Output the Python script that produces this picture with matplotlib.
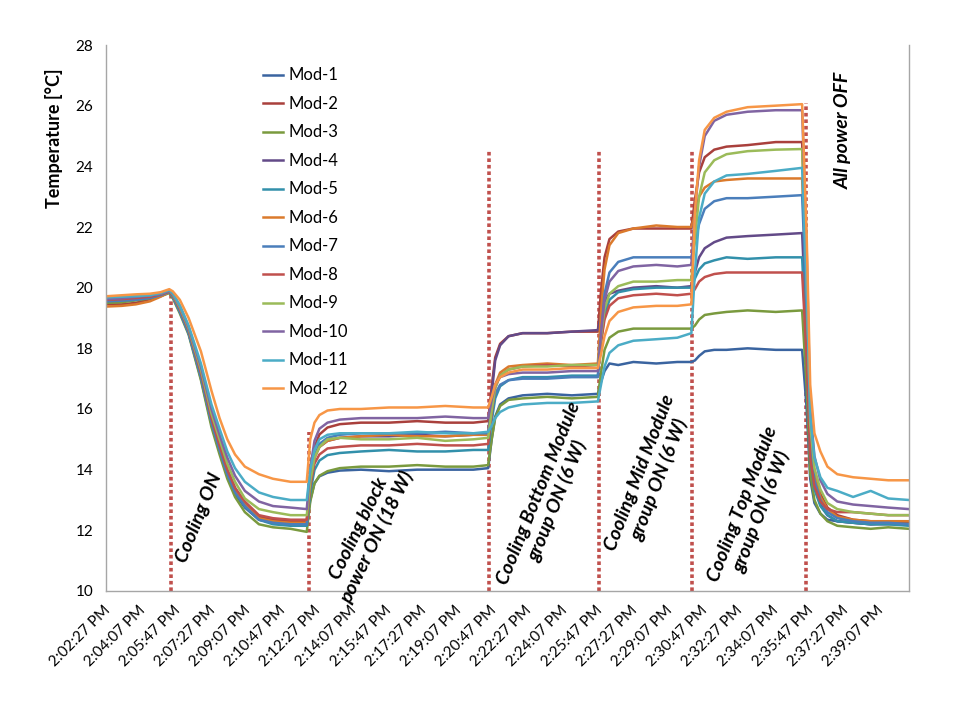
import matplotlib
matplotlib.use("Agg")
import matplotlib.pyplot as plt

plt.rcParams['font.family'] = ['Lato', 'DejaVu Sans']

# seconds after 2:02:27 PM
t = [0, 40, 80, 120, 150, 175,
     185, 205, 230, 265, 295, 318, 340, 362, 390, 430, 470, 520, 566,
     576, 588, 602, 625, 660, 720, 800, 880, 960, 1040, 1082,
     1092, 1102, 1116, 1140, 1180, 1250, 1320, 1394,
     1403, 1413, 1427, 1452, 1495, 1560, 1620, 1660,
     1670, 1682, 1698, 1725, 1760, 1820, 1900, 1975,
     1988, 1998, 2010, 2027, 2047, 2075, 2120, 2170, 2220, 2279]

mod1 = [19.55, 19.58, 19.62, 19.68, 19.75, 19.85,
        19.7, 19.2, 18.5, 17.0, 15.5, 14.6, 13.8, 13.2, 12.75, 12.35, 12.25, 12.2, 12.2,
        13.0, 13.55, 13.78, 13.9, 13.97, 14.0, 13.95, 14.0, 14.0, 14.0, 14.05,
        15.0, 15.75, 16.15, 16.35, 16.45, 16.5, 16.45, 16.5,
        16.9, 17.25, 17.5, 17.45, 17.55, 17.5, 17.55, 17.55,
        17.6, 17.75, 17.9, 17.95, 17.95, 18.0, 17.95, 17.95,
        16.0, 13.7, 12.9, 12.55, 12.35, 12.3, 12.25, 12.2, 12.25, 12.25]
mod2 = [19.45, 19.45, 19.5, 19.62, 19.72, 19.85,
        19.72, 19.25, 18.55, 17.1, 15.6, 14.7, 13.95, 13.35, 12.9, 12.45, 12.35, 12.3, 12.3,
        13.76, 14.74, 15.16, 15.39, 15.5, 15.55, 15.55, 15.6, 15.55, 15.55, 15.6,
        16.75, 17.7, 18.15, 18.4, 18.5, 18.5, 18.55, 18.55,
        19.9, 21.0, 21.6, 21.85, 21.95, 21.95, 21.95, 21.95,
        22.9, 23.8, 24.3, 24.55, 24.65, 24.7, 24.8, 24.8,
        20.4, 15.4, 13.9, 13.2, 12.75, 12.5, 12.35, 12.3, 12.3, 12.3]
mod3 = [19.5, 19.52, 19.58, 19.65, 19.72, 19.82,
        19.65, 19.15, 18.45, 16.95, 15.4, 14.5, 13.7, 13.1, 12.6, 12.2, 12.1, 12.05, 11.95,
        12.95, 13.55, 13.8, 13.95, 14.05, 14.1, 14.1, 14.15, 14.1, 14.1, 14.15,
        15.0, 15.7, 16.1, 16.3, 16.35, 16.4, 16.35, 16.4,
        17.2, 17.95, 18.35, 18.55, 18.65, 18.65, 18.65, 18.65,
        18.75, 18.95, 19.1, 19.15, 19.2, 19.25, 19.2, 19.25,
        16.7, 13.9, 13.0, 12.55, 12.3, 12.15, 12.1, 12.05, 12.1, 12.05]
mod4 = [19.6, 19.62, 19.65, 19.7, 19.78, 19.88,
        19.75, 19.3, 18.6, 17.2, 15.7, 14.8, 14.0, 13.4, 12.9, 12.4, 12.25, 12.2, 12.2,
        13.5, 14.4, 14.75, 14.95, 15.05, 15.1, 15.1, 15.15, 15.1, 15.15, 15.15,
        16.5, 17.6, 18.1, 18.4, 18.5, 18.5, 18.55, 18.6,
        19.1, 19.55, 19.8, 19.9, 20.0, 20.05, 20.0, 20.05,
        20.5, 21.0, 21.3, 21.5, 21.65, 21.7, 21.75, 21.8,
        18.4, 14.6, 13.45, 12.85, 12.5, 12.3, 12.25, 12.2, 12.2, 12.2]
mod5 = [19.58, 19.6, 19.63, 19.68, 19.76, 19.86,
        19.7, 19.25, 18.5, 17.1, 15.6, 14.7, 13.9, 13.3, 12.8, 12.35, 12.2, 12.15, 12.15,
        13.25, 13.99, 14.3, 14.48, 14.55, 14.6, 14.65, 14.6, 14.6, 14.65, 14.65,
        15.6, 16.35, 16.75, 16.95, 17.05, 17.05, 17.1, 17.1,
        18.2, 19.1, 19.6, 19.85, 19.95, 20.0, 20.0, 20.0,
        20.3, 20.6, 20.8, 20.9, 21.0, 20.95, 21.0, 21.0,
        17.9, 14.4, 13.35, 12.8, 12.5, 12.3, 12.25, 12.2, 12.2, 12.15]
mod6 = [19.38, 19.4, 19.45, 19.55, 19.7, 19.85,
        19.72, 19.25, 18.55, 17.15, 15.65, 14.75, 13.95, 13.35, 12.85, 12.4, 12.3, 12.25, 12.25,
        13.55, 14.4, 14.75, 14.95, 15.05, 15.1, 15.15, 15.1, 15.1, 15.15, 15.15,
        16.05, 16.8, 17.2, 17.4, 17.45, 17.5, 17.45, 17.5,
        19.2, 20.6, 21.4, 21.8, 21.95, 22.05, 22.0, 22.0,
        22.4, 23.0, 23.3, 23.5, 23.55, 23.6, 23.6, 23.6,
        19.6, 15.1, 13.8, 13.1, 12.7, 12.45, 12.35, 12.3, 12.3, 12.3]
mod7 = [19.55, 19.57, 19.6, 19.66, 19.75, 19.86,
        19.7, 19.2, 18.5, 17.05, 15.55, 14.65, 13.85, 13.25, 12.8, 12.35, 12.25, 12.2, 12.2,
        13.55, 14.45, 14.85, 15.05, 15.15, 15.2, 15.2, 15.2, 15.25, 15.2, 15.2,
        15.95, 16.5, 16.8, 16.95, 17.0, 17.0, 17.05, 17.05,
        18.4, 19.8, 20.5, 20.85, 21.0, 21.0, 21.0, 21.0,
        21.5, 22.1, 22.6, 22.85, 22.95, 22.95, 23.0, 23.05,
        19.3, 14.95, 13.65, 13.0, 12.6, 12.4, 12.3, 12.25, 12.25, 12.2]
mod8 = [19.6, 19.62, 19.66, 19.7, 19.78, 19.88,
        19.75, 19.3, 18.6, 17.2, 15.7, 14.8, 14.0, 13.4, 12.95, 12.5, 12.4, 12.35, 12.35,
        13.45, 14.2, 14.5, 14.7, 14.75, 14.8, 14.8, 14.85, 14.8, 14.8, 14.85,
        15.85, 16.7, 17.1, 17.3, 17.4, 17.45, 17.4, 17.45,
        18.2, 18.95, 19.4, 19.65, 19.75, 19.8, 19.75, 19.8,
        19.95, 20.2, 20.35, 20.45, 20.5, 20.5, 20.5, 20.5,
        17.65, 14.4, 13.45, 12.95, 12.7, 12.6, 12.6, 12.55, 12.5, 12.5]
mod9 = [19.65, 19.68, 19.72, 19.75, 19.8, 19.9,
        19.78, 19.35, 18.65, 17.3, 15.85, 15.0, 14.2, 13.6, 13.05, 12.7, 12.6, 12.5, 12.5,
        13.6, 14.4, 14.75, 15.0, 15.05, 15.0, 15.0, 15.05, 14.95, 15.0, 15.05,
        15.95, 16.7, 17.1, 17.3, 17.4, 17.4, 17.45, 17.45,
        18.4, 19.3, 19.8, 20.05, 20.2, 20.2, 20.25, 20.25,
        21.6, 23.0, 23.8, 24.2, 24.4, 24.5, 24.55, 24.57,
        20.3, 15.5, 14.05, 13.35, 12.9, 12.7, 12.6, 12.55, 12.5, 12.5]
mod10 = [19.62, 19.65, 19.7, 19.74, 19.8, 19.9,
         19.8, 19.4, 18.7, 17.4, 16.0, 15.15, 14.4, 13.8, 13.3, 12.95, 12.8, 12.75, 12.7,
         14.05, 14.95, 15.35, 15.55, 15.65, 15.7, 15.7, 15.7, 15.75, 15.7, 15.7,
         16.3, 16.8, 17.05, 17.15, 17.2, 17.2, 17.25, 17.25,
         18.5, 19.6, 20.2, 20.55, 20.7, 20.75, 20.7, 20.75,
         22.5, 24.0, 25.0, 25.5, 25.7, 25.8, 25.85, 25.85,
         21.25, 16.0, 14.45, 13.65, 13.2, 12.95, 12.85, 12.8, 12.75, 12.7]
mod11 = [19.68, 19.7, 19.72, 19.75, 19.82, 19.92,
         19.82, 19.42, 18.75, 17.5, 16.15, 15.35, 14.6, 14.05, 13.6, 13.25, 13.1, 13.0, 13.0,
         14.0, 14.65, 15.0, 15.15, 15.2, 15.2, 15.2, 15.25, 15.2, 15.2, 15.25,
         15.45, 15.7, 15.9, 16.05, 16.15, 16.2, 16.2, 16.25,
         16.8, 17.4, 17.85, 18.1, 18.25, 18.3, 18.35, 18.5,
         20.5, 22.3, 23.1, 23.5, 23.7, 23.75, 23.85, 23.95,
         20.1, 15.8, 14.4, 13.75, 13.4, 13.3, 13.1, 13.3, 13.05, 13.0]
mod12 = [19.72, 19.75, 19.78, 19.8, 19.85, 19.95,
         19.88, 19.6, 19.0, 17.9, 16.6, 15.7, 15.0, 14.5, 14.1, 13.85, 13.7, 13.6, 13.6,
         15.0, 15.55, 15.8, 15.95, 16.0, 16.0, 16.05, 16.05, 16.1, 16.05, 16.05,
         16.4, 16.8, 17.05, 17.2, 17.3, 17.3, 17.35, 17.35,
         17.8, 18.4, 18.9, 19.2, 19.35, 19.4, 19.4, 19.45,
         22.5, 24.2, 25.2, 25.6, 25.8, 25.95, 26.0, 26.05,
         21.7, 16.8, 15.2, 14.6, 14.1, 13.85, 13.75, 13.7, 13.65, 13.65]

series = [mod1, mod2, mod3, mod4, mod5, mod6, mod7, mod8, mod9, mod10, mod11, mod12]
names = ['Mod-%d' % i for i in range(1, 13)]
colors = ['#3A64A0', '#A9403C', '#7A9A3E', '#634A88', '#3290AB', '#DB7A2C',
          '#4A7EBB', '#C0504D', '#9BBB59', '#8064A2', '#4BACC6', '#F79646']

tick_pos = [i * 100 for i in range(23)]
tick_labels = ['2:02:27 PM', '2:04:07 PM', '2:05:47 PM', '2:07:27 PM', '2:09:07 PM',
               '2:10:47 PM', '2:12:27 PM', '2:14:07 PM', '2:15:47 PM', '2:17:27 PM',
               '2:19:07 PM', '2:20:47 PM', '2:22:27 PM', '2:24:07 PM', '2:25:47 PM',
               '2:27:27 PM', '2:29:07 PM', '2:30:47 PM', '2:32:27 PM', '2:34:07 PM',
               '2:35:47 PM', '2:37:27 PM', '2:39:07 PM']

# event markers: time, top of the dotted line
event_t = [179, 571, 1084, 1397, 1663, 1987]
event_top = [19.9, 15.25, 24.5, 24.5, 24.5, 26.1]

notes = ['Cooling ON', 'Cooling block\npower ON (18 W)',
         'Cooling Bottom Module\ngroup ON (6 W)', 'Cooling Mid Module\ngroup ON (6 W)',
         'Cooling Top Module\ngroup ON (6 W)', 'All power OFF']
note_xy = [(199, 518), (368, 533), (548, 497), (650, 476), (752, 508), (843, 130)]
note_rot = [68, 64, 68, 69, 69, 90]

fig = plt.figure(figsize=(9.6, 7.2), dpi=100)
ax = fig.add_axes([106 / 960, 1 - 591 / 720, (909 - 106) / 960, (591 - 45) / 720])

for et, top in zip(event_t, event_top):
    ax.plot([et, et], [10, top], color='#C0504D', lw=2.6, linestyle=(0, (1, 0.8)), zorder=1)

for y, name, c in zip(series, names, colors):
    ax.plot(t, y, color=c, lw=1.8, label=name, zorder=2)

ax.set_xlim(-5, 2279)
ax.set_ylim(10, 28)
ax.set_yticks(range(10, 29, 2))
ax.set_xticks(tick_pos)
ax.set_xticklabels(tick_labels, rotation=45, ha='right', va='center',
                   rotation_mode='anchor', fontsize=11)
ax.tick_params(axis='both', length=0)
ax.tick_params(axis='x', pad=12)
ax.tick_params(axis='y', pad=9, labelsize=11)
for s in ['left', 'bottom', 'right']:
    ax.spines[s].set_color('#A6A6A6')
    ax.spines[s].set_linewidth(1)
ax.spines['top'].set_visible(False)

fig.text(54 / 960, 1 - 138 / 720, 'Temperature [°C]', rotation=90, fontsize=13,
         fontweight='bold', ha='center', va='center')

ax.legend(loc='upper left', bbox_to_anchor=(255 / 960, 1 - 59 / 720),
          bbox_transform=fig.transFigure, frameon=False, fontsize=12,
          handlelength=1.2, handletextpad=0.3, labelspacing=0.75, borderpad=0)

for txt, (px, py), rot in zip(notes, note_xy, note_rot):
    fig.text(px / 960, 1 - py / 720, txt, rotation=rot, fontsize=14,
             fontweight='bold', fontstyle='italic', ha='center', va='center',
             multialignment='center', linespacing=1.2, rotation_mode='anchor')

fig.savefig('out.png', dpi=100)
